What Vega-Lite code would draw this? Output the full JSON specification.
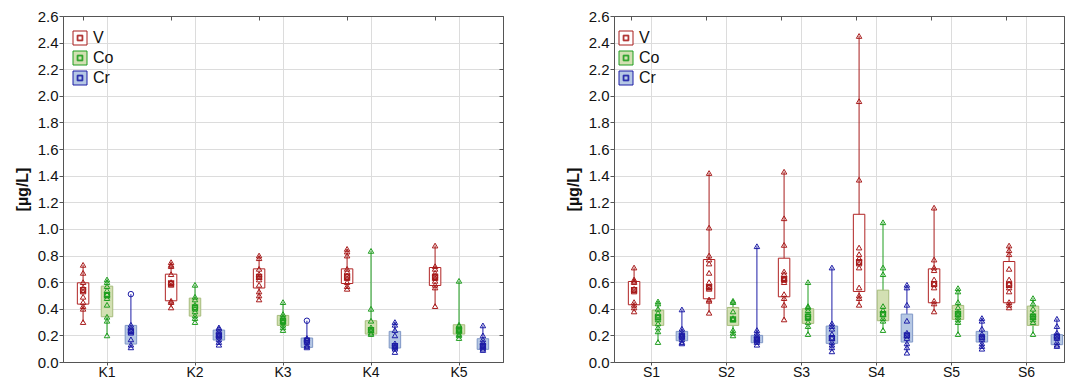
{
  "$schema": "https://vega.github.io/schema/vega-lite/v6.json",
  "padding": {"left": 13, "top": 8, "right": 2, "bottom": 0},
  "bounds": "flush",
  "spacing": 111,
  "background": "white",
  "config": {
    "font": "Liberation Sans",
    "view": {"stroke": "#555555", "strokeWidth": 1},
    "axis": {"labelFont": "Liberation Sans", "titleFont": "Liberation Sans", "labelColor": "#111111", "titleColor": "#111111", "domainColor": "#555555", "tickColor": "#555555", "gridColor": "#dcdcdc", "gridWidth": 1},
    "legend": {"labelFont": "Liberation Sans", "labelColor": "#111111"}
  },
  "datasets": {
    "stats": [
      {"p":"K","g":"K1","e":"V","min":0.30,"q1":0.435,"med":0.54,"q3":0.595,"max":0.73},
      {"p":"K","g":"K1","e":"Co","min":0.20,"q1":0.34,"med":0.50,"q3":0.57,"max":0.62},
      {"p":"K","g":"K1","e":"Cr","min":0.11,"q1":0.135,"med":0.23,"q3":0.275,"max":0.51},
      {"p":"K","g":"K2","e":"V","min":0.41,"q1":0.46,"med":0.59,"q3":0.66,"max":0.75},
      {"p":"K","g":"K2","e":"Co","min":0.30,"q1":0.345,"med":0.41,"q3":0.48,"max":0.58},
      {"p":"K","g":"K2","e":"Cr","min":0.13,"q1":0.165,"med":0.20,"q3":0.24,"max":0.26},
      {"p":"K","g":"K3","e":"V","min":0.47,"q1":0.556,"med":0.64,"q3":0.70,"max":0.80},
      {"p":"K","g":"K3","e":"Co","min":0.24,"q1":0.275,"med":0.31,"q3":0.35,"max":0.45},
      {"p":"K","g":"K3","e":"Cr","min":0.11,"q1":0.11,"med":0.16,"q3":0.18,"max":0.31},
      {"p":"K","g":"K4","e":"V","min":0.55,"q1":0.59,"med":0.64,"q3":0.70,"max":0.85},
      {"p":"K","g":"K4","e":"Co","min":0.21,"q1":0.21,"med":0.24,"q3":0.31,"max":0.835},
      {"p":"K","g":"K4","e":"Cr","min":0.075,"q1":0.105,"med":0.12,"q3":0.23,"max":0.30},
      {"p":"K","g":"K5","e":"V","min":0.42,"q1":0.575,"med":0.64,"q3":0.71,"max":0.875},
      {"p":"K","g":"K5","e":"Co","min":0.18,"q1":0.21,"med":0.24,"q3":0.28,"max":0.61},
      {"p":"K","g":"K5","e":"Cr","min":0.09,"q1":0.095,"med":0.12,"q3":0.175,"max":0.275},
      {"p":"S","g":"S1","e":"V","min":0.38,"q1":0.43,"med":0.54,"q3":0.605,"max":0.71},
      {"p":"S","g":"S1","e":"Co","min":0.15,"q1":0.275,"med":0.335,"q3":0.39,"max":0.455},
      {"p":"S","g":"S1","e":"Cr","min":0.14,"q1":0.16,"med":0.19,"q3":0.23,"max":0.395},
      {"p":"S","g":"S2","e":"V","min":0.37,"q1":0.475,"med":0.56,"q3":0.77,"max":1.42},
      {"p":"S","g":"S2","e":"Co","min":0.20,"q1":0.275,"med":0.32,"q3":0.41,"max":0.46},
      {"p":"S","g":"S2","e":"Cr","min":0.13,"q1":0.145,"med":0.17,"q3":0.20,"max":0.87},
      {"p":"S","g":"S3","e":"V","min":0.32,"q1":0.49,"med":0.62,"q3":0.78,"max":1.43},
      {"p":"S","g":"S3","e":"Co","min":0.21,"q1":0.29,"med":0.34,"q3":0.40,"max":0.60},
      {"p":"S","g":"S3","e":"Cr","min":0.08,"q1":0.14,"med":0.18,"q3":0.27,"max":0.71},
      {"p":"S","g":"S4","e":"V","min":0.43,"q1":0.53,"med":0.75,"q3":1.11,"max":2.45},
      {"p":"S","g":"S4","e":"Co","min":0.24,"q1":0.31,"med":0.36,"q3":0.54,"max":1.05},
      {"p":"S","g":"S4","e":"Cr","min":0.07,"q1":0.15,"med":0.20,"q3":0.36,"max":0.58},
      {"p":"S","g":"S5","e":"V","min":0.38,"q1":0.445,"med":0.585,"q3":0.70,"max":1.16},
      {"p":"S","g":"S5","e":"Co","min":0.21,"q1":0.32,"med":0.36,"q3":0.425,"max":0.555},
      {"p":"S","g":"S5","e":"Cr","min":0.10,"q1":0.15,"med":0.185,"q3":0.23,"max":0.33},
      {"p":"S","g":"S6","e":"V","min":0.41,"q1":0.445,"med":0.58,"q3":0.755,"max":0.875},
      {"p":"S","g":"S6","e":"Co","min":0.21,"q1":0.275,"med":0.34,"q3":0.42,"max":0.48},
      {"p":"S","g":"S6","e":"Cr","min":0.12,"q1":0.13,"med":0.19,"q3":0.205,"max":0.325}
    ],
    "points": [
      {"p":"K","g":"K1","e":"V","v":0.73},{"p":"K","g":"K1","e":"V","v":0.67},{"p":"K","g":"K1","e":"V","v":0.60},{"p":"K","g":"K1","e":"V","v":0.56},{"p":"K","g":"K1","e":"V","v":0.53},{"p":"K","g":"K1","e":"V","v":0.49},{"p":"K","g":"K1","e":"V","v":0.45},{"p":"K","g":"K1","e":"V","v":0.42},{"p":"K","g":"K1","e":"V","v":0.40},{"p":"K","g":"K1","e":"V","v":0.30},
      {"p":"K","g":"K1","e":"Co","v":0.62},{"p":"K","g":"K1","e":"Co","v":0.60},{"p":"K","g":"K1","e":"Co","v":0.57},{"p":"K","g":"K1","e":"Co","v":0.54},{"p":"K","g":"K1","e":"Co","v":0.51},{"p":"K","g":"K1","e":"Co","v":0.48},{"p":"K","g":"K1","e":"Co","v":0.43},{"p":"K","g":"K1","e":"Co","v":0.34},{"p":"K","g":"K1","e":"Co","v":0.31},{"p":"K","g":"K1","e":"Co","v":0.20},
      {"p":"K","g":"K1","e":"Cr","v":0.51,"t":"o"},{"p":"K","g":"K1","e":"Cr","v":0.28},{"p":"K","g":"K1","e":"Cr","v":0.26},{"p":"K","g":"K1","e":"Cr","v":0.24},{"p":"K","g":"K1","e":"Cr","v":0.22},{"p":"K","g":"K1","e":"Cr","v":0.17},{"p":"K","g":"K1","e":"Cr","v":0.13},{"p":"K","g":"K1","e":"Cr","v":0.11},
      {"p":"K","g":"K2","e":"V","v":0.75},{"p":"K","g":"K2","e":"V","v":0.73},{"p":"K","g":"K2","e":"V","v":0.72},{"p":"K","g":"K2","e":"V","v":0.66},{"p":"K","g":"K2","e":"V","v":0.60},{"p":"K","g":"K2","e":"V","v":0.58},{"p":"K","g":"K2","e":"V","v":0.46},{"p":"K","g":"K2","e":"V","v":0.45},{"p":"K","g":"K2","e":"V","v":0.41},
      {"p":"K","g":"K2","e":"Co","v":0.58},{"p":"K","g":"K2","e":"Co","v":0.49},{"p":"K","g":"K2","e":"Co","v":0.47},{"p":"K","g":"K2","e":"Co","v":0.43},{"p":"K","g":"K2","e":"Co","v":0.40},{"p":"K","g":"K2","e":"Co","v":0.38},{"p":"K","g":"K2","e":"Co","v":0.35},{"p":"K","g":"K2","e":"Co","v":0.33},{"p":"K","g":"K2","e":"Co","v":0.30},
      {"p":"K","g":"K2","e":"Cr","v":0.26},{"p":"K","g":"K2","e":"Cr","v":0.25},{"p":"K","g":"K2","e":"Cr","v":0.23},{"p":"K","g":"K2","e":"Cr","v":0.21},{"p":"K","g":"K2","e":"Cr","v":0.20},{"p":"K","g":"K2","e":"Cr","v":0.19},{"p":"K","g":"K2","e":"Cr","v":0.17},{"p":"K","g":"K2","e":"Cr","v":0.15},{"p":"K","g":"K2","e":"Cr","v":0.13},
      {"p":"K","g":"K3","e":"V","v":0.80},{"p":"K","g":"K3","e":"V","v":0.78},{"p":"K","g":"K3","e":"V","v":0.70},{"p":"K","g":"K3","e":"V","v":0.66},{"p":"K","g":"K3","e":"V","v":0.64},{"p":"K","g":"K3","e":"V","v":0.62},{"p":"K","g":"K3","e":"V","v":0.58},{"p":"K","g":"K3","e":"V","v":0.53},{"p":"K","g":"K3","e":"V","v":0.50},{"p":"K","g":"K3","e":"V","v":0.47},
      {"p":"K","g":"K3","e":"Co","v":0.45},{"p":"K","g":"K3","e":"Co","v":0.36},{"p":"K","g":"K3","e":"Co","v":0.34},{"p":"K","g":"K3","e":"Co","v":0.33},{"p":"K","g":"K3","e":"Co","v":0.31},{"p":"K","g":"K3","e":"Co","v":0.30},{"p":"K","g":"K3","e":"Co","v":0.28},{"p":"K","g":"K3","e":"Co","v":0.26},{"p":"K","g":"K3","e":"Co","v":0.24},
      {"p":"K","g":"K3","e":"Cr","v":0.31,"t":"o"},{"p":"K","g":"K3","e":"Cr","v":0.18},{"p":"K","g":"K3","e":"Cr","v":0.17},{"p":"K","g":"K3","e":"Cr","v":0.15},{"p":"K","g":"K3","e":"Cr","v":0.13},{"p":"K","g":"K3","e":"Cr","v":0.12},{"p":"K","g":"K3","e":"Cr","v":0.11},
      {"p":"K","g":"K4","e":"V","v":0.85},{"p":"K","g":"K4","e":"V","v":0.83},{"p":"K","g":"K4","e":"V","v":0.80},{"p":"K","g":"K4","e":"V","v":0.70},{"p":"K","g":"K4","e":"V","v":0.68},{"p":"K","g":"K4","e":"V","v":0.65},{"p":"K","g":"K4","e":"V","v":0.63},{"p":"K","g":"K4","e":"V","v":0.60},{"p":"K","g":"K4","e":"V","v":0.57},{"p":"K","g":"K4","e":"V","v":0.55},
      {"p":"K","g":"K4","e":"Co","v":0.835},{"p":"K","g":"K4","e":"Co","v":0.40},{"p":"K","g":"K4","e":"Co","v":0.31},{"p":"K","g":"K4","e":"Co","v":0.26},{"p":"K","g":"K4","e":"Co","v":0.24},{"p":"K","g":"K4","e":"Co","v":0.22},{"p":"K","g":"K4","e":"Co","v":0.21},
      {"p":"K","g":"K4","e":"Cr","v":0.30},{"p":"K","g":"K4","e":"Cr","v":0.28},{"p":"K","g":"K4","e":"Cr","v":0.24},{"p":"K","g":"K4","e":"Cr","v":0.20},{"p":"K","g":"K4","e":"Cr","v":0.14},{"p":"K","g":"K4","e":"Cr","v":0.12},{"p":"K","g":"K4","e":"Cr","v":0.11},{"p":"K","g":"K4","e":"Cr","v":0.10},{"p":"K","g":"K4","e":"Cr","v":0.075},
      {"p":"K","g":"K5","e":"V","v":0.875},{"p":"K","g":"K5","e":"V","v":0.72},{"p":"K","g":"K5","e":"V","v":0.70},{"p":"K","g":"K5","e":"V","v":0.67},{"p":"K","g":"K5","e":"V","v":0.65},{"p":"K","g":"K5","e":"V","v":0.63},{"p":"K","g":"K5","e":"V","v":0.61},{"p":"K","g":"K5","e":"V","v":0.58},{"p":"K","g":"K5","e":"V","v":0.56},{"p":"K","g":"K5","e":"V","v":0.42},
      {"p":"K","g":"K5","e":"Co","v":0.61},{"p":"K","g":"K5","e":"Co","v":0.28},{"p":"K","g":"K5","e":"Co","v":0.27},{"p":"K","g":"K5","e":"Co","v":0.25},{"p":"K","g":"K5","e":"Co","v":0.24},{"p":"K","g":"K5","e":"Co","v":0.23},{"p":"K","g":"K5","e":"Co","v":0.21},{"p":"K","g":"K5","e":"Co","v":0.20},{"p":"K","g":"K5","e":"Co","v":0.18},
      {"p":"K","g":"K5","e":"Cr","v":0.275},{"p":"K","g":"K5","e":"Cr","v":0.20},{"p":"K","g":"K5","e":"Cr","v":0.17},{"p":"K","g":"K5","e":"Cr","v":0.15},{"p":"K","g":"K5","e":"Cr","v":0.13},{"p":"K","g":"K5","e":"Cr","v":0.12},{"p":"K","g":"K5","e":"Cr","v":0.11},{"p":"K","g":"K5","e":"Cr","v":0.10},{"p":"K","g":"K5","e":"Cr","v":0.09},
      {"p":"S","g":"S1","e":"V","v":0.71},{"p":"S","g":"S1","e":"V","v":0.62},{"p":"S","g":"S1","e":"V","v":0.61},{"p":"S","g":"S1","e":"V","v":0.60},{"p":"S","g":"S1","e":"V","v":0.55},{"p":"S","g":"S1","e":"V","v":0.53},{"p":"S","g":"S1","e":"V","v":0.45},{"p":"S","g":"S1","e":"V","v":0.43},{"p":"S","g":"S1","e":"V","v":0.41},{"p":"S","g":"S1","e":"V","v":0.38},
      {"p":"S","g":"S1","e":"Co","v":0.455},{"p":"S","g":"S1","e":"Co","v":0.44},{"p":"S","g":"S1","e":"Co","v":0.40},{"p":"S","g":"S1","e":"Co","v":0.37},{"p":"S","g":"S1","e":"Co","v":0.34},{"p":"S","g":"S1","e":"Co","v":0.32},{"p":"S","g":"S1","e":"Co","v":0.29},{"p":"S","g":"S1","e":"Co","v":0.26},{"p":"S","g":"S1","e":"Co","v":0.23},{"p":"S","g":"S1","e":"Co","v":0.15},
      {"p":"S","g":"S1","e":"Cr","v":0.395},{"p":"S","g":"S1","e":"Cr","v":0.25},{"p":"S","g":"S1","e":"Cr","v":0.23},{"p":"S","g":"S1","e":"Cr","v":0.21},{"p":"S","g":"S1","e":"Cr","v":0.20},{"p":"S","g":"S1","e":"Cr","v":0.19},{"p":"S","g":"S1","e":"Cr","v":0.17},{"p":"S","g":"S1","e":"Cr","v":0.15},{"p":"S","g":"S1","e":"Cr","v":0.14},
      {"p":"S","g":"S2","e":"V","v":1.42},{"p":"S","g":"S2","e":"V","v":1.01},{"p":"S","g":"S2","e":"V","v":0.80},{"p":"S","g":"S2","e":"V","v":0.77},{"p":"S","g":"S2","e":"V","v":0.74},{"p":"S","g":"S2","e":"V","v":0.67},{"p":"S","g":"S2","e":"V","v":0.60},{"p":"S","g":"S2","e":"V","v":0.57},{"p":"S","g":"S2","e":"V","v":0.55},{"p":"S","g":"S2","e":"V","v":0.47},{"p":"S","g":"S2","e":"V","v":0.46},{"p":"S","g":"S2","e":"V","v":0.37},
      {"p":"S","g":"S2","e":"Co","v":0.46},{"p":"S","g":"S2","e":"Co","v":0.45},{"p":"S","g":"S2","e":"Co","v":0.38},{"p":"S","g":"S2","e":"Co","v":0.33},{"p":"S","g":"S2","e":"Co","v":0.32},{"p":"S","g":"S2","e":"Co","v":0.24},{"p":"S","g":"S2","e":"Co","v":0.22},{"p":"S","g":"S2","e":"Co","v":0.20},
      {"p":"S","g":"S2","e":"Cr","v":0.87},{"p":"S","g":"S2","e":"Cr","v":0.24},{"p":"S","g":"S2","e":"Cr","v":0.22},{"p":"S","g":"S2","e":"Cr","v":0.20},{"p":"S","g":"S2","e":"Cr","v":0.18},{"p":"S","g":"S2","e":"Cr","v":0.17},{"p":"S","g":"S2","e":"Cr","v":0.16},{"p":"S","g":"S2","e":"Cr","v":0.15},{"p":"S","g":"S2","e":"Cr","v":0.13},
      {"p":"S","g":"S3","e":"V","v":1.43},{"p":"S","g":"S3","e":"V","v":1.08},{"p":"S","g":"S3","e":"V","v":0.88},{"p":"S","g":"S3","e":"V","v":0.68},{"p":"S","g":"S3","e":"V","v":0.66},{"p":"S","g":"S3","e":"V","v":0.63},{"p":"S","g":"S3","e":"V","v":0.62},{"p":"S","g":"S3","e":"V","v":0.60},{"p":"S","g":"S3","e":"V","v":0.51},{"p":"S","g":"S3","e":"V","v":0.48},{"p":"S","g":"S3","e":"V","v":0.43},{"p":"S","g":"S3","e":"V","v":0.32},
      {"p":"S","g":"S3","e":"Co","v":0.60},{"p":"S","g":"S3","e":"Co","v":0.42},{"p":"S","g":"S3","e":"Co","v":0.41},{"p":"S","g":"S3","e":"Co","v":0.39},{"p":"S","g":"S3","e":"Co","v":0.36},{"p":"S","g":"S3","e":"Co","v":0.33},{"p":"S","g":"S3","e":"Co","v":0.30},{"p":"S","g":"S3","e":"Co","v":0.27},{"p":"S","g":"S3","e":"Co","v":0.21},
      {"p":"S","g":"S3","e":"Cr","v":0.71},{"p":"S","g":"S3","e":"Cr","v":0.29},{"p":"S","g":"S3","e":"Cr","v":0.27},{"p":"S","g":"S3","e":"Cr","v":0.25},{"p":"S","g":"S3","e":"Cr","v":0.21},{"p":"S","g":"S3","e":"Cr","v":0.18},{"p":"S","g":"S3","e":"Cr","v":0.15},{"p":"S","g":"S3","e":"Cr","v":0.13},{"p":"S","g":"S3","e":"Cr","v":0.11},{"p":"S","g":"S3","e":"Cr","v":0.08},
      {"p":"S","g":"S4","e":"V","v":2.45},{"p":"S","g":"S4","e":"V","v":1.96},{"p":"S","g":"S4","e":"V","v":1.37},{"p":"S","g":"S4","e":"V","v":0.86},{"p":"S","g":"S4","e":"V","v":0.81},{"p":"S","g":"S4","e":"V","v":0.78},{"p":"S","g":"S4","e":"V","v":0.74},{"p":"S","g":"S4","e":"V","v":0.71},{"p":"S","g":"S4","e":"V","v":0.56},{"p":"S","g":"S4","e":"V","v":0.50},{"p":"S","g":"S4","e":"V","v":0.48},{"p":"S","g":"S4","e":"V","v":0.43},
      {"p":"S","g":"S4","e":"Co","v":1.05},{"p":"S","g":"S4","e":"Co","v":0.71},{"p":"S","g":"S4","e":"Co","v":0.66},{"p":"S","g":"S4","e":"Co","v":0.42},{"p":"S","g":"S4","e":"Co","v":0.39},{"p":"S","g":"S4","e":"Co","v":0.36},{"p":"S","g":"S4","e":"Co","v":0.33},{"p":"S","g":"S4","e":"Co","v":0.31},{"p":"S","g":"S4","e":"Co","v":0.24},
      {"p":"S","g":"S4","e":"Cr","v":0.58},{"p":"S","g":"S4","e":"Cr","v":0.56},{"p":"S","g":"S4","e":"Cr","v":0.43},{"p":"S","g":"S4","e":"Cr","v":0.31},{"p":"S","g":"S4","e":"Cr","v":0.22},{"p":"S","g":"S4","e":"Cr","v":0.20},{"p":"S","g":"S4","e":"Cr","v":0.18},{"p":"S","g":"S4","e":"Cr","v":0.14},{"p":"S","g":"S4","e":"Cr","v":0.11},{"p":"S","g":"S4","e":"Cr","v":0.07},
      {"p":"S","g":"S5","e":"V","v":1.16},{"p":"S","g":"S5","e":"V","v":0.77},{"p":"S","g":"S5","e":"V","v":0.71},{"p":"S","g":"S5","e":"V","v":0.69},{"p":"S","g":"S5","e":"V","v":0.62},{"p":"S","g":"S5","e":"V","v":0.59},{"p":"S","g":"S5","e":"V","v":0.56},{"p":"S","g":"S5","e":"V","v":0.46},{"p":"S","g":"S5","e":"V","v":0.44},{"p":"S","g":"S5","e":"V","v":0.38},
      {"p":"S","g":"S5","e":"Co","v":0.555},{"p":"S","g":"S5","e":"Co","v":0.53},{"p":"S","g":"S5","e":"Co","v":0.45},{"p":"S","g":"S5","e":"Co","v":0.41},{"p":"S","g":"S5","e":"Co","v":0.38},{"p":"S","g":"S5","e":"Co","v":0.36},{"p":"S","g":"S5","e":"Co","v":0.34},{"p":"S","g":"S5","e":"Co","v":0.32},{"p":"S","g":"S5","e":"Co","v":0.30},{"p":"S","g":"S5","e":"Co","v":0.21},
      {"p":"S","g":"S5","e":"Cr","v":0.33},{"p":"S","g":"S5","e":"Cr","v":0.31},{"p":"S","g":"S5","e":"Cr","v":0.25},{"p":"S","g":"S5","e":"Cr","v":0.21},{"p":"S","g":"S5","e":"Cr","v":0.19},{"p":"S","g":"S5","e":"Cr","v":0.17},{"p":"S","g":"S5","e":"Cr","v":0.14},{"p":"S","g":"S5","e":"Cr","v":0.12},{"p":"S","g":"S5","e":"Cr","v":0.10},
      {"p":"S","g":"S6","e":"V","v":0.875},{"p":"S","g":"S6","e":"V","v":0.84},{"p":"S","g":"S6","e":"V","v":0.81},{"p":"S","g":"S6","e":"V","v":0.70},{"p":"S","g":"S6","e":"V","v":0.62},{"p":"S","g":"S6","e":"V","v":0.59},{"p":"S","g":"S6","e":"V","v":0.56},{"p":"S","g":"S6","e":"V","v":0.53},{"p":"S","g":"S6","e":"V","v":0.45},{"p":"S","g":"S6","e":"V","v":0.43},{"p":"S","g":"S6","e":"V","v":0.41},
      {"p":"S","g":"S6","e":"Co","v":0.48},{"p":"S","g":"S6","e":"Co","v":0.44},{"p":"S","g":"S6","e":"Co","v":0.40},{"p":"S","g":"S6","e":"Co","v":0.36},{"p":"S","g":"S6","e":"Co","v":0.34},{"p":"S","g":"S6","e":"Co","v":0.32},{"p":"S","g":"S6","e":"Co","v":0.30},{"p":"S","g":"S6","e":"Co","v":0.21},
      {"p":"S","g":"S6","e":"Cr","v":0.325},{"p":"S","g":"S6","e":"Cr","v":0.27},{"p":"S","g":"S6","e":"Cr","v":0.22},{"p":"S","g":"S6","e":"Cr","v":0.20},{"p":"S","g":"S6","e":"Cr","v":0.18},{"p":"S","g":"S6","e":"Cr","v":0.15},{"p":"S","g":"S6","e":"Cr","v":0.13},{"p":"S","g":"S6","e":"Cr","v":0.12}
    ]
  },
  "resolve": {"scale": {"fill": "independent"}, "legend": {"fill": "independent"}},
  "hconcat": [
    {
      "width": 440,
      "height": 346,
      "layer": [
        {
          "data": {"name": "stats"},
          "transform": [{"filter": "datum.p === 'K'"}],
          "mark": {"type": "rule", "strokeWidth": 1},
          "encoding": {
            "x": {"field": "g", "type": "nominal", "title": null, "scale": {"domain": ["K1","K2","K3","K4","K5"], "paddingInner": 0, "paddingOuter": 0},
                  "axis": {"orient": "bottom", "bandPosition": 0.5, "grid": true, "labelAngle": 0, "labelFontSize": 14, "labelPadding": 0, "tickSize": 3, "domain": true}},
            "xOffset": {"field": "e", "scale": {"domain": ["V","Co","Cr"], "paddingInner": 0.52, "paddingOuter": 0.6}},
            "y": {"field": "min", "type": "quantitative", "scale": {"domain": [0, 2.6], "nice": false, "zero": true},
                  "axis": {"orient": "left", "values": [0,0.2,0.4,0.6,0.8,1.0,1.2,1.4,1.6,1.8,2.0,2.2,2.4,2.6], "format": ".1f", "grid": true, "labelFontSize": 15, "labelPadding": 1, "tickSize": 4, "title": "[µg/L]", "titleFontSize": 16, "titleFontWeight": "bold", "titlePadding": 7}},
            "y2": {"field": "max"},
            "color": {"field": "e", "type": "nominal", "scale": {"domain": ["V","Co","Cr"], "range": ["#a81c1c","#1e9e1e","#1c1ca6"]}, "legend": null}
          }
        },
        {
          "data": {"name": "stats"},
          "transform": [{"filter": "datum.p === 'K'"}],
          "mark": {"type": "bar", "strokeWidth": 1},
          "encoding": {
            "x": {"field": "g", "type": "nominal", "title": null, "axis": {"orient": "top", "bandPosition": 0.23, "grid": false, "labels": false, "tickSize": -4, "domain": true, "title": null}},
            "xOffset": {"field": "e"},
            "y": {"field": "q1", "type": "quantitative", "axis": {"orient": "right", "values": [0,0.2,0.4,0.6,0.8,1.0,1.2,1.4,1.6,1.8,2.0,2.2,2.4,2.6], "grid": false, "labels": false, "tickSize": -4, "domain": true, "title": null}},
            "y2": {"field": "q3"},
            "fill": {"field": "e", "type": "nominal", "scale": {"domain": ["V","Co","Cr"], "range": ["#ffffff","#d3e0b3","#b6c8e4"]},
                     "legend": {"orient": "none", "legendX": 9, "legendY": 14, "title": null, "padding": 0, "symbolType": "M-1,-1H1V1H-1Z M-0.4,-0.4H0.4V0.4H-0.4Z M-0.3,-0.3H0.3V0.3H-0.3Z", "symbolSize": 196, "symbolStrokeWidth": 1, "labelFontSize": 16, "rowPadding": 2, "labelOffset": 5,
                                "encode": {"symbols": {"update": {"stroke": {"scale": "color", "field": "value"}}}}}},
            "stroke": {"field": "e", "type": "nominal", "scale": {"domain": ["V","Co","Cr"], "range": ["#b02424","#a6bc7c","#7f97c6"]}, "legend": null}
          }
        },
        {
          "data": {"name": "points"},
          "transform": [{"filter": "datum.p === 'K'"}],
          "mark": {"type": "point", "filled": false, "size": 30, "strokeWidth": 1, "opacity": 1},
          "encoding": {
            "x": {"field": "g", "type": "nominal", "axis": null},
            "xOffset": {"field": "e"},
            "y": {"field": "v", "type": "quantitative", "axis": null},
            "color": {"field": "e", "type": "nominal", "legend": null},
            "shape": {"condition": {"test": "datum.t === 'o'", "value": "circle"}, "value": "triangle-up"}
          }
        },
        {
          "data": {"name": "stats"},
          "transform": [{"filter": "datum.p === 'K'"}],
          "mark": {"type": "point", "shape": "square", "filled": false, "size": 22, "strokeWidth": 1.6, "opacity": 1},
          "encoding": {
            "x": {"field": "g", "type": "nominal", "axis": null},
            "xOffset": {"field": "e"},
            "y": {"field": "med", "type": "quantitative", "axis": null},
            "color": {"field": "e", "type": "nominal", "legend": null}
          }
        }
      ]
    },
    {
      "width": 450,
      "height": 346,
      "layer": [
        {
          "data": {"name": "stats"},
          "transform": [{"filter": "datum.p === 'S'"}],
          "mark": {"type": "rule", "strokeWidth": 1},
          "encoding": {
            "x": {"field": "g", "type": "nominal", "title": null, "scale": {"domain": ["S1","S2","S3","S4","S5","S6"], "paddingInner": 0, "paddingOuter": 0},
                  "axis": {"orient": "bottom", "bandPosition": 0.5, "grid": true, "labelAngle": 0, "labelFontSize": 14, "labelPadding": 0, "tickSize": 3, "domain": true}},
            "xOffset": {"field": "e", "scale": {"domain": ["V","Co","Cr"], "paddingInner": 0.52, "paddingOuter": 0.6}},
            "y": {"field": "min", "type": "quantitative", "scale": {"domain": [0, 2.6], "nice": false, "zero": true},
                  "axis": {"orient": "left", "values": [0,0.2,0.4,0.6,0.8,1.0,1.2,1.4,1.6,1.8,2.0,2.2,2.4,2.6], "format": ".1f", "grid": true, "labelFontSize": 15, "labelPadding": 1, "tickSize": 4, "title": "[µg/L]", "titleFontSize": 16, "titleFontWeight": "bold", "titlePadding": 7}},
            "y2": {"field": "max"},
            "color": {"field": "e", "type": "nominal", "legend": null}
          }
        },
        {
          "data": {"name": "stats"},
          "transform": [{"filter": "datum.p === 'S'"}],
          "mark": {"type": "bar", "strokeWidth": 1},
          "encoding": {
            "x": {"field": "g", "type": "nominal", "title": null, "axis": {"orient": "top", "bandPosition": 0.23, "grid": false, "labels": false, "tickSize": -4, "domain": true, "title": null}},
            "xOffset": {"field": "e"},
            "y": {"field": "q1", "type": "quantitative", "axis": {"orient": "right", "values": [0,0.2,0.4,0.6,0.8,1.0,1.2,1.4,1.6,1.8,2.0,2.2,2.4,2.6], "grid": false, "labels": false, "tickSize": -4, "domain": true, "title": null}},
            "y2": {"field": "q3"},
            "fill": {"field": "e", "type": "nominal", "scale": {"domain": ["V","Co","Cr"], "range": ["#ffffff","#d3e0b3","#b6c8e4"]},
                     "legend": {"orient": "none", "legendX": 4, "legendY": 14, "title": null, "padding": 0, "symbolType": "M-1,-1H1V1H-1Z M-0.4,-0.4H0.4V0.4H-0.4Z M-0.3,-0.3H0.3V0.3H-0.3Z", "symbolSize": 196, "symbolStrokeWidth": 1, "labelFontSize": 16, "rowPadding": 2, "labelOffset": 5,
                                "encode": {"symbols": {"update": {"stroke": {"scale": "color", "field": "value"}}}}}},
            "stroke": {"field": "e", "type": "nominal", "legend": null}
          }
        },
        {
          "data": {"name": "points"},
          "transform": [{"filter": "datum.p === 'S'"}],
          "mark": {"type": "point", "filled": false, "size": 30, "strokeWidth": 1, "opacity": 1},
          "encoding": {
            "x": {"field": "g", "type": "nominal", "axis": null},
            "xOffset": {"field": "e"},
            "y": {"field": "v", "type": "quantitative", "axis": null},
            "color": {"field": "e", "type": "nominal", "legend": null},
            "shape": {"condition": {"test": "datum.t === 'o'", "value": "circle"}, "value": "triangle-up"}
          }
        },
        {
          "data": {"name": "stats"},
          "transform": [{"filter": "datum.p === 'S'"}],
          "mark": {"type": "point", "shape": "square", "filled": false, "size": 22, "strokeWidth": 1.6, "opacity": 1},
          "encoding": {
            "x": {"field": "g", "type": "nominal", "axis": null},
            "xOffset": {"field": "e"},
            "y": {"field": "med", "type": "quantitative", "axis": null},
            "color": {"field": "e", "type": "nominal", "legend": null}
          }
        }
      ]
    }
  ]
}
